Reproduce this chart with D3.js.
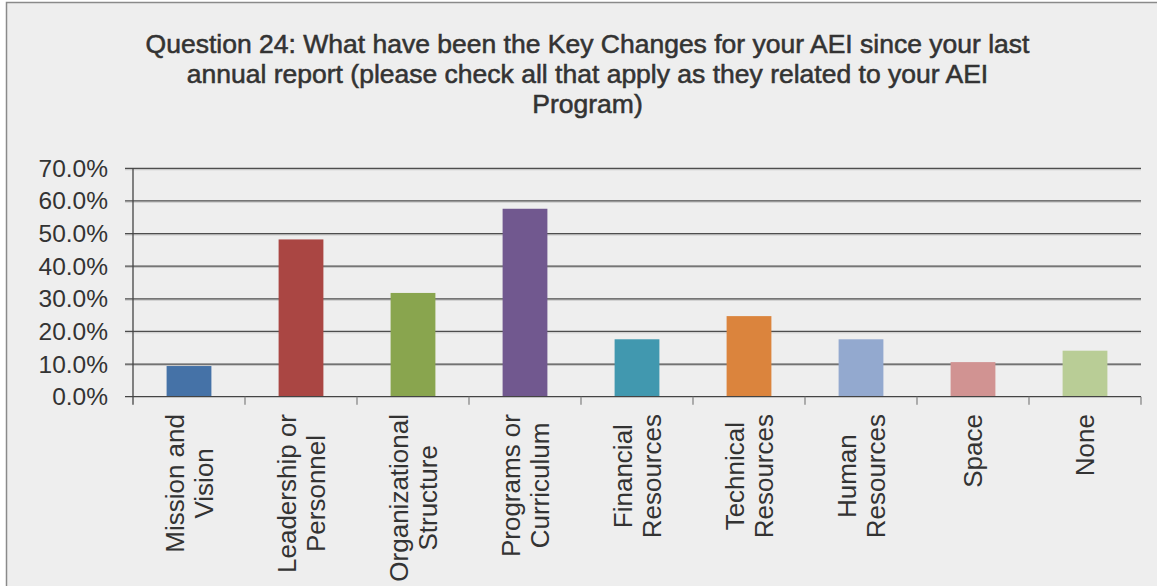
<!DOCTYPE html>
<html>
<head>
<meta charset="utf-8">
<script src="https://cdn.jsdelivr.net/npm/d3@7"></script>
<style>
  body { margin: 0; background: #fff; }
  svg text { font-family: "Liberation Sans", Arial, sans-serif; fill: #333; }
</style>
</head>
<body>
<div id="chart"></div>
<script>
var categories = [
  ["Mission and", "Vision"],
  ["Leadership or", "Personnel"],
  ["Organizational", "Structure"],
  ["Programs or", "Curriculum"],
  ["Financial", "Resources"],
  ["Technical", "Resources"],
  ["Human", "Resources"],
  ["Space"],
  ["None"]
];
var values = [0.094, 0.482, 0.318, 0.576, 0.176, 0.247, 0.176, 0.106, 0.141];
var colors = ["#4572a7", "#aa4643", "#89a54e", "#71588f", "#4198af", "#db843d", "#93a9cf", "#d19392", "#b9cd96"];
var yTicks = [0, 0.1, 0.2, 0.3, 0.4, 0.5, 0.6, 0.7];
var titleLines = [
  "Question 24: What have been the Key Changes for your AEI since your last",
  "annual report (please check all that apply as they related to your AEI",
  "Program)"
];

var width = 1157, height = 586;
var plotLeft = 133, plotRight = 1141, plotTop = 168.3, plotBottom = 396.7;

var svg = d3.select("#chart").append("svg")
    .attr("width", width)
    .attr("height", height);

svg.append("rect")
    .attr("x", 6.5).attr("y", 2.5)
    .attr("width", width + 10).attr("height", height + 10)
    .attr("fill", "#eeeeee")
    .attr("stroke", "#8a8a8a")
    .attr("stroke-width", 1.5);

// title
svg.append("g").selectAll("text")
    .data(titleLines)
    .enter().append("text")
    .attr("x", 587.5)
    .attr("y", function(d, i) { return 53 + i * 30; })
    .attr("text-anchor", "middle")
    .style("font-size", "26.5px")
    .style("stroke", "#333")
    .style("stroke-width", "0.55px")
    .text(function(d) { return d; });

var x = d3.scaleBand()
    .domain(d3.range(categories.length))
    .range([plotLeft, plotRight])
    .paddingInner(0.6)
    .paddingOuter(0.3);

var y = d3.scaleLinear()
    .domain([0, 0.7])
    .range([plotBottom, plotTop]);

// gridlines
var grid = svg.append("g");
grid.selectAll("line.shadow")
    .data(yTicks.slice(1))
    .enter().append("line")
    .attr("class", "shadow")
    .attr("x1", plotLeft - 8).attr("x2", plotRight)
    .attr("y1", function(d) { return y(d) + 1.3; })
    .attr("y2", function(d) { return y(d) + 1.3; })
    .attr("stroke", "#c8c8c8")
    .attr("stroke-width", 1.2);
grid.selectAll("line.main")
    .data(yTicks.slice(1))
    .enter().append("line")
    .attr("class", "main")
    .attr("x1", plotLeft - 8).attr("x2", plotRight)
    .attr("y1", function(d) { return y(d); })
    .attr("y2", function(d) { return y(d); })
    .attr("stroke", "#4d4d4d")
    .attr("stroke-width", 1.2);

// bars
svg.append("g").selectAll("rect")
    .data(values)
    .enter().append("rect")
    .attr("x", function(d, i) { return x(i); })
    .attr("y", function(d) { return y(d); })
    .attr("width", x.bandwidth())
    .attr("height", function(d) { return y(0) - y(d); })
    .attr("fill", function(d, i) { return colors[i]; });

// y axis
svg.append("line")
    .attr("x1", plotLeft).attr("x2", plotLeft)
    .attr("y1", plotTop).attr("y2", plotBottom + 8)
    .attr("stroke", "#444").attr("stroke-width", 1.3);

svg.append("g").selectAll("text")
    .data(yTicks)
    .enter().append("text")
    .attr("x", 108)
    .attr("y", function(d) { return y(d) + 8.5; })
    .attr("text-anchor", "end")
    .style("font-size", "24.5px")
    .text(function(d) { return d3.format(".1%")(d); });

// x axis
svg.append("line")
    .attr("x1", plotLeft - 8).attr("x2", plotRight)
    .attr("y1", plotBottom).attr("y2", plotBottom)
    .attr("stroke", "#444").attr("stroke-width", 1.3);

svg.append("g").selectAll("line")
    .data(d3.range(1, categories.length + 1))
    .enter().append("line")
    .attr("x1", function(d) { return plotLeft + d * x.step(); })
    .attr("x2", function(d) { return plotLeft + d * x.step(); })
    .attr("y1", plotBottom).attr("y2", plotBottom + 8)
    .attr("stroke", "#888").attr("stroke-width", 1.3);

// rotated category labels
var fs = 26, lineGap = 29, labelTop = 414;
categories.forEach(function(lines, i) {
  var cx = x(i) + x.bandwidth() / 2;
  var g = svg.append("g")
      .attr("transform", "translate(" + cx + "," + labelTop + ") rotate(-90)");
  var texts = g.selectAll("text")
      .data(lines)
      .enter().append("text")
      .attr("text-anchor", "middle")
      .style("font-size", fs + "px")
      .attr("y", function(d, j) { return (j - (lines.length - 1) / 2) * lineGap + fs * 0.36; })
      .text(function(d) { return d; });
  var maxW = 0;
  texts.each(function() { maxW = Math.max(maxW, this.getComputedTextLength()); });
  texts.attr("x", -maxW / 2);
});
</script>
</body>
</html>
